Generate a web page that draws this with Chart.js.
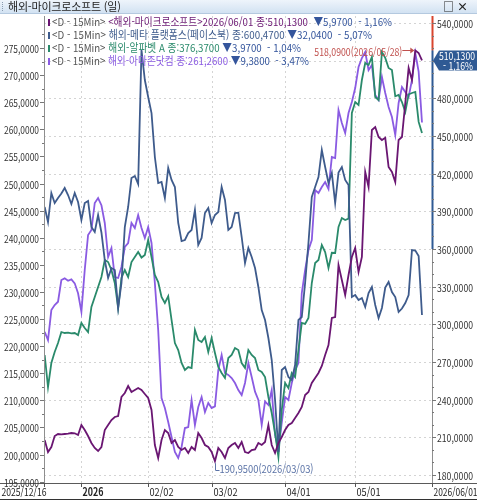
<!DOCTYPE html>
<html lang="ko">
<head>
<meta charset="UTF-8">
<title>해외-마이크로소프트 (일)</title>
<script src="https://cdn.jsdelivr.net/npm/chart.js"></script>
<style>
    body { margin: 0; background: #fff; font-family: "Noto Sans CJK KR", sans-serif; }
    #wrap { position: relative; width: 477px; height: 500px; overflow: hidden; }
    #c { position: absolute; left: 0; top: 0; }
    #titlebar { position: absolute; left: 0; top: 0; width: 477px; height: 13px; z-index: 2;
        background: linear-gradient(#eef4fb, #d2e2f2); border-bottom: 1px solid #b4c9df;
        font-size: 11px; line-height: 13px; color: #222; }
    #titlebar .grip { position: absolute; left: 2px; top: 2px; width: 1px; height: 9px; border-left: 1px dotted #8a9bb0; }
    #titlebar .ttl { position: absolute; left: 8px; top: 0; letter-spacing: -0.2px; }
    #titlebar .btns { position: absolute; right: 6px; top: 0; font-weight: bold; letter-spacing: 3px; }
</style>
</head>
<body>
<div id="wrap">
    <div id="titlebar"><span class="grip"></span><span class="ttl">해외-마이크로소프트 (일)</span><span class="btns">□×</span></div>
    <canvas id="c" width="477" height="500"></canvas>
</div>
<script>
// daily closes, 2025/12/16 .. 2026/06/01 (114 trading days)
const msft = [
    207.87, 198.32, 202.30, 211.06, 212.65, 212.40, 212.65, 212.90, 213.45, 213.20,
    211.86, 219.82, 215.84, 211.06, 205.48, 201.50, 199.11, 202.30, 215.84, 219.82,
    223.80, 226.19, 226.99, 242.12, 245.30, 250.88, 246.10, 247.69, 249.29, 247.69,
    244.51, 241.32, 231.77, 203.89, 193.54, 207.87, 215.84, 213.45, 205.48, 207.87,
    202.30, 199.91, 201.50, 197.52, 202.30, 199.91, 213.45, 209.47, 203.89, 202.30,
    198.32, 190.95, 201.50, 198.32, 193.54, 201.50, 203.89, 205.48, 201.50, 206.28,
    198.32, 197.52, 199.91, 200.40, 205.48, 203.89, 206.28, 219.82, 203.89, 197.52,
    205.48, 210.26, 215.84, 219.82, 221.41, 225.39, 229.38, 234.16, 243.71, 246.10,
    253.27, 257.25, 261.23, 266.81, 275.57, 283.53, 305.03, 305.83, 347.24, 335.30,
    323.35, 339.28, 353.62, 360.78, 341.67, 353.62, 421.31, 409.36, 454.76, 457.15,
    449.18, 446.79, 448.50, 425.29, 421.31, 413.35, 446.79, 449.18, 476.26, 504.13,
    494.58, 518.09, 516.10, 510.13
];
const meta = [
    659.17, 651.01, 666.77, 661.34, 664.06, 666.50, 669.49, 665.69, 660.80, 666.77,
    661.88, 652.10, 661.34, 662.43, 648.30, 645.58, 654.82, 645.30, 630.36, 620.58,
    626.01, 624.92, 604.27, 617.86, 648.30, 659.17, 674.93, 676.01, 671.67, 744.49,
    728.19, 718.95, 710.25, 686.34, 672.21, 672.75, 664.06, 680.36, 673.84, 670.04,
    650.47, 640.69, 641.23, 645.03, 646.67, 657.53, 638.51, 642.32, 655.90, 658.62,
    650.47, 654.82, 656.45, 670.04, 662.97, 646.67, 648.30, 655.90, 656.10, 642.86,
    628.73, 636.88, 631.99, 626.01, 615.69, 603.18, 597.75, 587.97, 576.01, 554.27,
    526.01, 570.57, 572.21, 566.77, 565.14, 573.29, 597.75, 599.38, 617.86, 639.60,
    664.60, 670.04, 675.47, 690.14, 680.91, 672.21, 677.64, 661.34, 677.90, 680.91,
    673.84, 671.12, 610.25, 611.34, 608.62, 609.71, 604.82, 612.42, 615.69, 605.90,
    598.84, 604.27, 615.40, 618.40, 612.97, 610.25, 602.10, 604.00, 606.99, 611.34,
    635.79, 635.50, 632.51, 600.47
];
const goog = [
    297.10, 285.67, 294.24, 298.17, 301.38, 305.31, 304.96, 305.10, 304.80, 304.96,
    304.24, 308.53, 306.74, 305.31, 314.24, 317.81, 321.38, 324.95, 331.02, 330.31,
    327.45, 322.81, 313.88, 324.60, 327.45, 324.95, 330.31, 332.10, 333.88, 331.90,
    332.81, 338.17, 332.10, 325.67, 323.17, 317.81, 315.67, 318.10, 309.60, 301.38,
    298.88, 294.24, 291.74, 292.81, 292.46, 306.03, 302.46, 301.74, 303.53, 298.17,
    303.17, 297.81, 292.81, 290.67, 288.89, 296.03, 297.10, 299.60, 298.88, 294.24,
    292.50, 298.88, 297.10, 296.03, 291.74, 291.03, 289.24, 282.10, 276.39, 269.25,
    260.68, 277.46, 287.10, 285.32, 290.67, 289.24, 298.88, 308.53, 308.20, 310.31,
    322.81, 329.95, 331.02, 336.38, 333.88, 328.17, 333.60, 333.52, 342.81, 346.02,
    345.31, 345.80, 383.52, 387.45, 386.37, 395.30, 401.37, 400.66, 403.52, 389.23,
    388.16, 405.30, 403.20, 399.59, 398.87, 389.50, 389.95, 387.45, 383.87, 390.20,
    390.66, 391.02, 380.34, 376.37
];
const amzn = [
    222.66, 221.13, 226.66, 227.59, 228.20, 232.20, 232.51, 232.07, 232.33, 231.59,
    229.75, 226.35, 234.04, 240.50, 241.42, 246.41, 247.33, 246.00, 242.72, 236.44,
    238.10, 232.75, 232.57, 234.60, 238.29, 239.03, 242.72, 241.79, 244.19, 241.79,
    239.95, 241.98, 239.03, 231.65, 222.97, 210.43, 208.58, 206.00, 203.23, 200.47,
    199.36, 201.39, 204.89, 205.08, 210.06, 205.45, 208.77, 210.61, 207.85, 209.51,
    208.58, 208.90, 215.59, 218.36, 215.04, 214.70, 214.12, 213.20, 211.90, 210.98,
    213.20, 216.89, 214.30, 211.60, 210.06, 205.45, 209.80, 209.14, 211.90, 203.60,
    200.83, 205.82, 210.61, 210.06, 213.20, 215.59, 216.89, 229.80, 234.04, 237.73,
    239.58, 248.80, 248.25, 249.36, 250.28, 249.00, 254.89, 254.71, 263.56, 261.17,
    259.32, 263.01, 265.04, 267.62, 271.50, 273.16, 274.27, 270.94, 271.87, 266.33,
    265.41, 269.65, 266.70, 264.12, 262.27, 258.95, 264.86, 267.81, 266.90, 265.96,
    269.10, 274.08, 270.64, 261.26
];

const xTickIdx = [0, 11, 31, 50, 72, 93, 113];
const xTickText = ['2025/12/16', '2026', '02/02', '03/02', '04/01', '05/01', '2026/06/01'];
const leftTicks = [195, 200, 205, 210, 215, 220, 225, 230, 235, 240, 245, 250, 255, 260, 265, 270, 275];
const rightTicks = [180, 210, 240, 270, 300, 330, 360, 390, 420, 450, 480, 510, 540];

const legendRows = [
    ['<해외-마이크로소프트>2026/06/01 종:510,1300  ', '▼5,9700  - 1,16%'],
    ['해외-메타 플랫폼스(페이스북) 종:600,4700 ', '▼32,0400  - 5,07%'],
    ['해외-알파벳 A 종:376,3700 ', '▼3,9700  - 1,04%'],
    ['해외-아마존닷컴 종:261,2600 ', '▼9,3800  - 3,47%']
];

const C_MSFT = '#6a1672', C_META = '#3e5b8c', C_GOOG = '#2a8a6b', C_AMZN = '#8a5be2';
const FONT = '"Noto Sans CJK KR", "Noto Sans", sans-serif';

function fmt4(v) { return v.toFixed(4).replace('.', ','); }
function pts(arr) { return arr.map((v, i) => ({ x: i, y: v })); }

// draw coloured text runs squeezed to width w
function runs(ctx, parts, x, y, w) {
    let total = 0;
    parts.forEach(p => total += ctx.measureText(p[0]).width);
    const sx = Math.min(1, w / total);
    ctx.save();
    ctx.translate(x, y);
    ctx.scale(sx, 1);
    let cx = 0;
    parts.forEach(p => {
        ctx.fillStyle = p[1];
        ctx.fillText(p[0], cx, 0);
        cx += ctx.measureText(p[0]).width;
    });
    ctx.restore();
}
function hline(ctx, x1, x2, y, col) {
    ctx.strokeStyle = col; ctx.beginPath(); ctx.moveTo(x1, y); ctx.lineTo(x2, y); ctx.stroke();
}
function vline(ctx, x, y1, y2, col) {
    ctx.strokeStyle = col; ctx.beginPath(); ctx.moveTo(x, y1); ctx.lineTo(x, y2); ctx.stroke();
}

const htsPlugin = {
    id: 'hts',
    beforeDatasetsDraw(chart) {
        const { ctx, chartArea: a, scales } = chart;
        ctx.save();
        ctx.lineWidth = 1;
        ctx.setLineDash([2, 3]);
        rightTicks.forEach(v => {
            const y = Math.round(scales.yR.getPixelForValue(v)) + 0.5;
            if (y > a.top + 2 && y < a.bottom - 2) hline(ctx, a.left, a.right, y, '#d4d4d4');
        });
        xTickIdx.slice(1, -1).forEach(i => {
            const x = Math.round(scales.x.getPixelForValue(i)) + 0.5;
            vline(ctx, x, a.top, a.bottom, '#d4d4d4');
        });
        ctx.restore();
    },
    afterDraw(chart) {
        const { ctx, chartArea: a, scales } = chart;
        const xs = scales.x, yL = scales.yL, yR = scales.yR;
        ctx.save();
        ctx.lineWidth = 1;
        ctx.textBaseline = 'middle';

        // axis lines
        vline(ctx, a.left + 0.5, a.top, a.bottom, '#8e8e8e');
        vline(ctx, a.right + 0.5, a.top, a.bottom, '#8e8e8e');
        hline(ctx, 0, 477, a.bottom + 0.5, '#5a5a5a');
        hline(ctx, 0, 477, 499.5, '#333');
        ctx.lineWidth = 2;
        vline(ctx, a.right + 0.5, a.top, yR.getPixelForValue(518.09), '#d8452e');
        vline(ctx, a.right + 0.5, yR.getPixelForValue(518.09), yR.getPixelForValue(360), '#2f5a94');
        ctx.lineWidth = 1;

        ctx.font = '11px ' + FONT;
        ctx.fillStyle = '#333';

        // left axis (아마존닷컴)
        leftTicks.forEach(v => {
            const y = Math.round(yL.getPixelForValue(v)) + 0.5;
            hline(ctx, a.left - 4, a.left, y, '#777');
            ctx.textAlign = 'right';
            ctx.fillStyle = '#333';
            ctx.fillText(fmt4(v), a.left - 5, y, 35);
            const m = Math.round(yL.getPixelForValue(v + 2.5)) + 0.5;
            if (m > a.top) hline(ctx, a.left - 2, a.left, m, '#777');
        });

        // right axis (마이크로소프트)
        rightTicks.forEach(v => {
            const y = Math.round(yR.getPixelForValue(v)) + 0.5;
            hline(ctx, a.right, a.right + 4, y, '#777');
            ctx.textAlign = 'left';
            ctx.fillStyle = '#333';
            ctx.fillText(fmt4(v), a.right + 5, y, 36);
            [10, 20].forEach(d => {
                const m = Math.round(yR.getPixelForValue(v + d)) + 0.5;
                if (m > a.top) hline(ctx, a.right, a.right + 2, m, '#777');
            });
        });

        // x axis
        xTickIdx.forEach((idx, k) => {
            let x = Math.round(xs.getPixelForValue(idx)) + 0.5;
            if (k === 0) x = a.left + 0.5;
            if (k === xTickIdx.length - 1) x = a.right + 0.5;
            vline(ctx, x, a.bottom, a.bottom + 4, '#555');
            ctx.fillStyle = '#222';
            if (k === 0) {
                ctx.textAlign = 'right';
                ctx.fillText(xTickText[k], x + 2, 492, 45);
            } else {
                ctx.textAlign = 'left';
                ctx.font = (k === 1 ? 'bold ' : '') + '11px ' + FONT;
                const w = k === 1 ? 21 : (k === xTickIdx.length - 1 ? 44 : 24);
                ctx.fillText(xTickText[k], x + 1, 492, w);
                ctx.font = '11px ' + FONT;
            }
        });

        // legend
        const cols = [C_MSFT, C_META, C_GOOG, C_AMZN];
        const widths = [340, 320, 249, 257];
        ctx.textAlign = 'left';
        legendRows.forEach((r, k) => {
            const y = 22 + k * 13;
            ctx.fillStyle = cols[k];
            ctx.fillRect(48, y - 3, 2, 7);
            runs(ctx, [['<D - 15Min> ', '#555'], [r[0], cols[k]], [r[1], '#34559c']], 52, y, widths[k]);
        });

        // high mark
        const hx = xs.getPixelForValue(111), hy = yR.getPixelForValue(518.09);
        ctx.strokeStyle = '#c0504d';
        ctx.fillStyle = '#c0504d';
        hline(ctx, hx - 13, hx - 2, Math.round(hy) + 0.5, '#c0504d');
        ctx.beginPath();
        ctx.moveTo(hx - 1, Math.round(hy) + 0.5);
        ctx.lineTo(hx - 5, Math.round(hy) - 2.5);
        ctx.lineTo(hx - 5, Math.round(hy) + 3.5);
        ctx.fill();
        ctx.textAlign = 'right';
        ctx.fillText('518,0900(2026/05/28)', hx - 13, hy + 1, 88);

        // low mark
        const lx = Math.round(xs.getPixelForValue(51)) + 0.5, ly = yR.getPixelForValue(190.95);
        ctx.strokeStyle = '#5b73a6';
        vline(ctx, lx, ly + 2, ly + 9, '#5b73a6');
        hline(ctx, lx, lx + 4, Math.round(ly + 9) + 0.5, '#5b73a6');
        ctx.fillStyle = '#5b73a6';
        ctx.textAlign = 'left';
        ctx.fillText('190,9500(2026/03/03)', lx + 4, ly + 8, 94);

        // last price badge
        const by = yR.getPixelForValue(510.13);
        ctx.fillStyle = '#2f5a94';
        ctx.beginPath();
        ctx.moveTo(a.right + 1, by);
        ctx.lineTo(a.right + 7, by - 10);
        ctx.lineTo(477, by - 10);
        ctx.lineTo(477, by + 10);
        ctx.lineTo(a.right + 7, by + 10);
        ctx.closePath();
        ctx.fill();
        ctx.fillStyle = '#fff';
        ctx.textAlign = 'center';
        ctx.fillText('510,1300', 457, by - 5, 36);
        ctx.fillText('- 1,16%', 458, by + 5, 30);

        ctx.restore();
    }
};

const line = (label, arr, axis, col) => ({
    label: label, data: pts(arr), yAxisID: axis, borderColor: col,
    borderWidth: 1.8, pointRadius: 0, tension: 0, fill: false
});

new Chart(document.getElementById('c').getContext('2d'), {
    type: 'line',
    data: {
        datasets: [
            line('해외-마이크로소프트', msft, 'yR', C_MSFT),
            line('해외-메타 플랫폼스(페이스북)', meta, 'yMeta', C_META),
            line('해외-알파벳 A', goog, 'yGoog', C_GOOG),
            line('해외-아마존닷컴', amzn, 'yL', C_AMZN)
        ]
    },
    options: {
        responsive: false,
        animation: false,
        events: [],
        layout: { padding: { top: 16, left: 0, right: 0, bottom: 0 } },
        plugins: { legend: { display: false }, tooltip: { enabled: false } },
        scales: {
            x: { type: 'linear', min: -0.2, max: 116, grid: { display: false }, border: { display: false },
                 ticks: { display: false }, afterFit(s) { s.height = 17; } },
            yL: { position: 'left', min: 194.75, max: 280.91, grid: { display: false }, border: { display: false },
                  ticks: { display: false }, afterFit(s) { s.width = 44; } },
            yR: { position: 'right', min: 173.63, max: 545.55, grid: { display: false }, border: { display: false },
                  ticks: { display: false }, afterFit(s) { s.width = 45; } },
            yMeta: { display: false, min: 509.16, max: 762.97 },
            yGoog: { display: false, min: 251.39, max: 418.16 }
        }
    },
    plugins: [htsPlugin]
});
</script>
</body>
</html>
